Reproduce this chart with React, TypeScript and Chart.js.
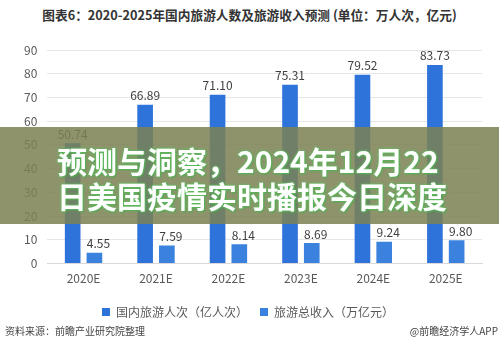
import React, { useEffect, useRef } from "react";
import { Chart, registerables } from "chart.js";

Chart.register(...registerables);

const categories = ["2020E", "2021E", "2022E", "2023E", "2024E", "2025E"];
const visitors = [50.74, 66.89, 71.1, 75.31, 79.52, 83.73];
const revenue = [4.55, 7.59, 8.14, 8.69, 9.24, 9.8];
const seriesNames = ["国内旅游人次（亿人次）", "旅游总收入（万亿元）"];
const yMax = 90;
const yStep = 10;

const titleText = "图表6：2020-2025年国内旅游人数及旅游收入预测 (单位：万人次，亿元)";
const bannerLines = ["预测与洞察，2024年12月22", "日美国疫情实时播报今日深度"];
const sourceText = "资料来源：前瞻产业研究院整理";
const brandText = "@前瞻经济学人APP";

const FONT = "'Noto Sans CJK SC', 'Noto Sans', sans-serif";

const valueLabels = {
  id: "valueLabels",
  afterDatasetsDraw(chart: any) {
    const ctx = chart.ctx;
    ctx.save();
    ctx.font = `12px ${FONT}`;
    ctx.fillStyle = "#404040";
    ctx.textAlign = "center";
    ctx.textBaseline = "bottom";
    chart.data.datasets.forEach((ds: any, di: number) => {
      const meta = chart.getDatasetMeta(di);
      meta.data.forEach((bar: any, i: number) => {
        const v = ds.data[i] as number;
        const x = di === 1 ? bar.x + 4 : bar.x;
        ctx.fillText(v.toFixed(2), x, bar.y - 3);
      });
    });
    ctx.restore();
  },
};

export default function App() {
  const ref = useRef<HTMLCanvasElement | null>(null);

  useEffect(() => {
    if (!ref.current) return;
    const chart = new Chart(ref.current, {
      type: "bar",
      data: {
        labels: categories,
        datasets: [
          {
            label: seriesNames[0],
            data: visitors,
            backgroundColor: "#2e73d9",
            categoryPercentage: 0.6,
            barPercentage: 0.72,
          },
          {
            label: seriesNames[1],
            data: revenue,
            backgroundColor: "#3a82dd",
            categoryPercentage: 0.6,
            barPercentage: 0.72,
          },
        ],
      },
      options: {
        responsive: false,
        animation: false,
        layout: { padding: { left: 14, right: 17, top: 50, bottom: 27 } },
        plugins: {
          legend: {
            position: "bottom",
            labels: {
              boxWidth: 8,
              boxHeight: 8,
              padding: 12,
              color: "#595959",
              font: { size: 12, family: FONT },
            },
          },
          tooltip: { enabled: false },
        },
        scales: {
          x: {
            grid: { display: false, drawTicks: false },
            border: { display: true, color: "#d9d9d9" },
            ticks: { color: "#595959", font: { size: 12, family: FONT }, padding: 8 },
          },
          y: {
            min: 0,
            max: yMax,
            grid: { color: "#e6e6e6", drawTicks: false },
            border: { display: false },
            ticks: {
              stepSize: yStep,
              color: "#595959",
              font: { size: 12, family: FONT },
              padding: 10,
            },
          },
        },
      },
      plugins: [valueLabels],
    });
    return () => chart.destroy();
  }, []);

  return (
    <div
      style={{
        position: "absolute",
        left: 0,
        top: 0,
        width: 499,
        height: 355,
        background: "#ffffff",
        overflow: "hidden",
        fontFamily: FONT,
      }}
    >
      <div
        style={{
          position: "absolute",
          left: 0,
          top: 6,
          width: 499,
          textAlign: "center",
          fontSize: 12.7,
          fontWeight: 700,
          color: "#333333",
          lineHeight: "18px",
        }}
      >
        {titleText}
      </div>
      <canvas ref={ref} width={499} height={355} style={{ position: "absolute", left: 0, top: 0 }} />
      <div
        style={{
          position: "absolute",
          left: 0,
          top: 127,
          width: 499,
          height: 97,
          background: "rgba(123,129,84,0.86)",
        }}
      >
        {bannerLines.map((line, i) => (
          <div
            key={i}
            style={{
              position: "absolute",
              left: 57,
              top: 15 + i * 35,
              fontSize: 30,
              fontWeight: 700,
              lineHeight: "36px",
              color: "#ffffff",
              whiteSpace: "nowrap",
              textShadow: "0 0 3px #5fbf5f, 0 0 2px #5fbf5f, 1px 1px 2px #4c9c4c",
            }}
          >
            {line}
          </div>
        ))}
      </div>
      <div
        style={{
          position: "absolute",
          left: 5,
          top: 324,
          fontSize: 10,
          color: "#444444",
          lineHeight: "14px",
        }}
      >
        {sourceText}
      </div>
      <div
        style={{
          position: "absolute",
          right: 1,
          top: 324,
          fontSize: 10,
          color: "#444444",
          lineHeight: "14px",
        }}
      >
        {brandText}
      </div>
    </div>
  );
}
